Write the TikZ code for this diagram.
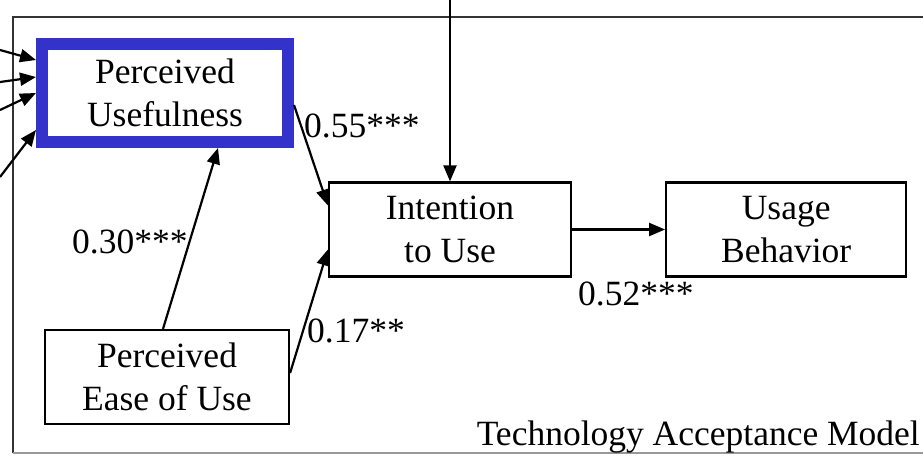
\documentclass[tikz,border=0pt]{standalone}
\usepackage{fontspec}
\setmainfont{Liberation Serif}
\usetikzlibrary{positioning,arrows.meta}
\definecolor{puBlue}{RGB}{51,51,204}
\tikzset{
  model box/.style={draw=black, line width=2.2pt, align=center, inner sep=0pt,
    font=\fontsize{35.5}{43}\selectfont},
  highlight box/.style={model box, draw=puBlue, line width=12pt,
    minimum width=246pt, minimum height=98pt},
  path arrow/.style={line width=2.2pt, -{Triangle[length=16pt,width=13pt]}},
  coef/.style={inner sep=0pt, font=\fontsize{35.5}{43}\selectfont},
}

\begin{document}
\begin{tikzpicture}[x=1pt,y=-1pt]
\useasboundingbox (0,0) rectangle (923,455);
% outer frame
\draw[line width=2.2pt, black!80] (13,453) -- (13,17) -- (923,17);
\draw[line width=1.5pt, black!40] (13,453) -- (923,453);
% the nodes
\node [highlight box] (pu) at (165,93) {Perceived\\Usefulness};
\node [model box, minimum width=244pt, minimum height=94pt] (peou) at (167,377) {Perceived\\Ease of Use};
\node [model box, minimum width=242pt, minimum height=94pt] (itu) at (450,229.5) {Intention\\to Use};
\node [model box, minimum width=240pt, minimum height=94pt, right=93pt of itu] (ub) {Usage\\Behavior};
% free ends outside the picture
\coordinate (ext1) at (0,50);
\coordinate (ext2) at (0,82);
\coordinate (ext3) at (0,110);
\coordinate (ext4) at (0,177);
\coordinate (extTop) at (450,0);
%drawings of vectors
\draw[path arrow] (ext1) -- ([yshift=33pt]pu.west);
\draw[path arrow] (ext2) -- ([yshift=16pt]pu.west);
\draw[path arrow] (ext3) -- (pu.west);
\draw[path arrow] (ext4) -- ([yshift=-37pt]pu.west);
\draw[path arrow] (extTop) -- (itu.north);

\draw[path arrow] ([yshift=-12pt]pu.east) -- ([yshift=24pt]itu.west);
\draw[path arrow] ([yshift=4pt]peou.east) -- ([yshift=-20pt]itu.west);
\draw[path arrow] ([xshift=-4pt]peou.north) -- ([xshift=53pt]pu.south);
\draw[path arrow] (itu.east) -- (ub.west);
% coefficients
\node [coef, anchor=base west] (c55) at (304,137) {0.55***};
\node [coef, anchor=base west] (c30) at (72,253) {0.30***};
\node [coef, anchor=base west] (c17) at (307,342) {0.17**};
\node [coef, anchor=base west] (c52) at (578,305) {0.52***};
\node [coef, anchor=base east] (title) at (920,445) {Technology Acceptance Model};
\end{tikzpicture}
\end{document}
